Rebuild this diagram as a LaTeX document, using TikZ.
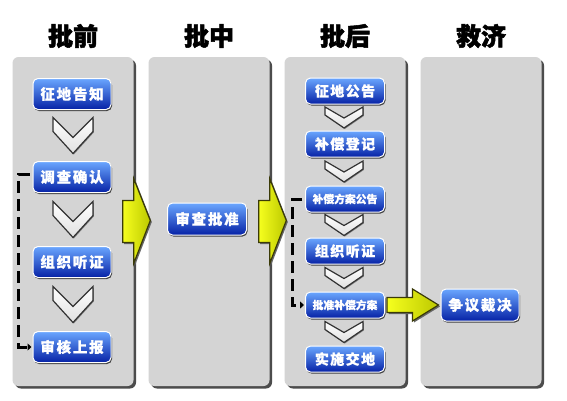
\documentclass[tikz,border=0pt]{standalone}
\usepackage{fontspec}
\newfontfamily\cjk{Noto Sans CJK SC}
\usetikzlibrary{calc,shadows,arrows.meta}
\definecolor{panelgray}{HTML}{D4D4D4}
\definecolor{btntop}{HTML}{6AA6FF}
\definecolor{btnmid}{HTML}{1A58F2}
\definecolor{btnbot}{HTML}{0622A6}
\definecolor{yelA}{HTML}{F6FF1E}
\definecolor{yelB}{HTML}{BCC800}
\definecolor{yeledge}{HTML}{3A3A08}
\tikzset{
	panel/.style={fill=panelgray,rounded corners=6pt,minimum width=121pt,minimum height=329pt,inner sep=0pt,
		drop shadow={shadow xshift=2.5pt,shadow yshift=-2.5pt,fill=black!70,opacity=1}},
	heading/.style={font=\cjk\bfseries\fontsize{25}{25}\selectfont\addfontfeature{FakeBold=2}},
	btn/.style={draw=white,line width=1pt,rounded corners=5pt,top color=btntop,middle color=btnmid,bottom color=btnbot,
		text=white,inner sep=0pt,minimum width=78pt,minimum height=31pt,
		font=\cjk\bfseries\fontsize{14.5}{15}\selectfont\addfontfeature{LetterSpace=12,FakeBold=0.8},
		drop shadow={shadow xshift=1pt,shadow yshift=-1.5pt,fill=black!75,opacity=1}},
	sbtn/.style={btn,minimum height=26pt,font=\cjk\bfseries\fontsize{14}{14}\selectfont\addfontfeature{LetterSpace=10,FakeBold=0.8}},
	tbtn/.style={btn,minimum height=26pt,font=\cjk\bfseries\fontsize{10.8}{11}\selectfont\addfontfeature{FakeBold=0.8}},
	chev/.style={draw=black!80,line width=1.2pt,line join=miter,top color=white,bottom color=black!12,
		drop shadow={shadow xshift=0.8pt,shadow yshift=-1pt,fill=black!50,opacity=1}},
	bigchev/.pic={\draw[chev] (-20,-18) -- (-20,-4) -- (0,18) -- (20,-4) -- (20,-18) -- (0,2) -- cycle;},
	smallchev/.pic={\draw[chev] (-19,-10.5) -- (-19,-2.5) -- (0,10.5) -- (19,-2.5) -- (19,-10.5) -- (0,0.5) -- cycle;},
	yarrow/.style={draw=yeledge,line width=1.2pt,line join=miter,left color=yelA,right color=yelB,
		drop shadow={shadow xshift=1.5pt,shadow yshift=-1.5pt,fill=black!60,opacity=1}},
	dashlink/.style={draw=black,line width=3pt,dash pattern=on 12pt off 6pt,-{Triangle[length=4pt,width=7pt]}}
}
\begin{document}
\begin{tikzpicture}[x=1pt,y=-1pt]
		\useasboundingbox (0,0) rectangle (567,400);
		\fill[white] (0,0) rectangle (567,400);
		\foreach \i/\x/\t in {1/73/批前,2/209/批中,3/345/批后,4/481/救济}{
		\node[panel] (p\i) at (\x,221.5) {};
		\node[heading] (h\i) at (\x,36) {\t};
		}
		\node[btn] (a1) at (72,94) {征地告知};
		\node[btn] (a2) at (72,177) {调查确认};
		\node[btn] (a3) at (72,262) {组织听证};
		\node[btn] (a4) at (72,347) {审核上报};
		\node[btn,minimum width=79pt,minimum height=32pt] (b1) at (207,219) {审查批准};
		\node[sbtn,minimum width=79pt] (c1) at (345,91) {征地公告};
		\node[sbtn,minimum width=79pt] (c2) at (345,144) {补偿登记};
		\node[tbtn,minimum width=79pt] (c3) at (345,199) {补偿方案公告};
		\node[sbtn,minimum width=79pt] (c4) at (345,251) {组织听证};
		\node[tbtn,minimum width=79pt] (c5) at (345,305) {批准补偿方案};
		\node[sbtn,minimum width=79pt] (c6) at (345,359) {实施交地};
		\node[btn,minimum height=32pt] (d1) at (480,305) {争议裁决};
		\foreach \u/\v in {a1/a2,a2/a3,a3/a4}
		\pic at ($(\u.south)!.5!(\v.north)+(1,0)$) {bigchev};
		\foreach \u/\v in {c1/c2,c2/c3,c3/c4,c4/c5,c5/c6}
		\pic at ($(\u.south)!.5!(\v.north)+(-1,0)$) {smallchev};
		\foreach \u/\v in {p1/p2,p2/p3}
		\draw[yarrow] ($(\u.east)+(-11,-21)$) -- ($(\u.east)+(0,-21)$) -- ($(\u.east)+(0,-43)$)
		-- ($(\v.west)+(2,-1)$) -- ($(\u.east)+(0,42)$) -- ($(\u.east)+(0,21)$) -- ($(\u.east)+(-11,21)$) -- cycle;
		\draw[yarrow] ($(c5.east)+(2,-7.5)$) -- ($(d1.west)+(-28,-7.5)$) -- ($(d1.west)+(-28,-16)$)
		-- ($(d1.west)+(-2,0)$) -- ($(d1.west)+(-28,16)$) -- ($(d1.west)+(-28,7.5)$) -- ($(c5.east)+(2,7.5)$) -- cycle;
		\draw[dashlink] ($(a2.west)+(-3,-3)$) -- ++(-11,0) |- ($(a4.west)+(-1,0)$);
		\draw[dashlink] ($(c3.west)+(-3,0)$) -- ++(-10,0) |- ($(c5.west)+(-1,0)$);
\end{tikzpicture}
\end{document}
